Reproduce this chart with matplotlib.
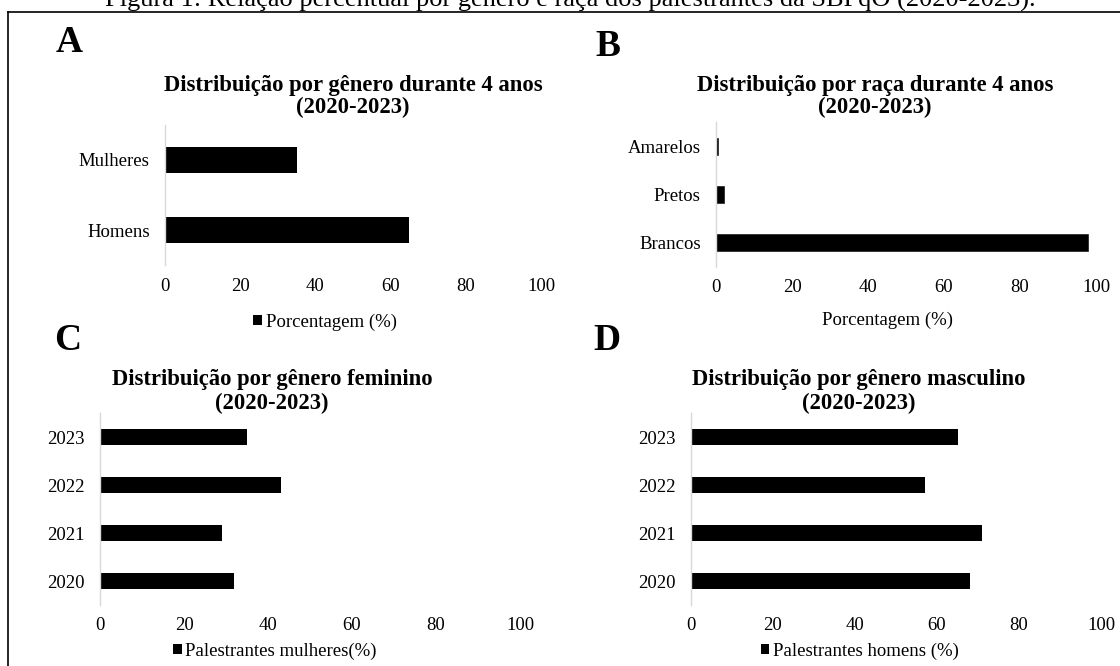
import matplotlib
matplotlib.use("Agg")
import matplotlib.pyplot as plt
from matplotlib.lines import Line2D

plt.rcParams['font.family'] = ['Liberation Serif', 'DejaVu Serif']

# ---------------- data ----------------
gender_labels = ["Homens", "Mulheres"]
gender_values = [65, 35]

race_labels = ["Brancos", "Pretos", "Amarelos"]
race_values = [98, 2, 0.4]

years = ["2020", "2021", "2022", "2023"]
female_values = [32, 29, 43, 35]
male_values = [68, 71, 57, 65]

x_ticks = [0, 20, 40, 60, 80, 100]

caption = "Figura 1: Relação percentual por gênero e raça dos palestrantes da SBPqO (2020-2023)."
titles = {
    "A": ("Distribuição por gênero durante 4 anos", "(2020-2023)"),
    "B": ("Distribuição por raça durante 4 anos", "(2020-2023)"),
    "C": ("Distribuição por gênero feminino", "(2020-2023)"),
    "D": ("Distribuição por gênero masculino", "(2020-2023)"),
}
legend_A = "Porcentagem (%)"
xlabel_B = "Porcentagem (%)"
legend_C = "Palestrantes mulheres(%)"
legend_D = "Palestrantes homens (%)"

# ---------------- layout ----------------
W, H = 1120, 666
fig = plt.figure(figsize=(W / 100, H / 100), dpi=100)
fig.patch.set_facecolor("white")


def fx(x):
    return x / W


def fy(y):
    return 1 - y / H


def px_axes(x0, x1, ytop, ybot):
    return fig.add_axes([fx(x0), fy(ybot), (x1 - x0) / W, (ybot - ytop) / H])


TICK_FS = 13.5
GRID_GREY = "#d9d9d9"


def style_axes(ax, ncat):
    ax.set_xlim(0, 100)
    ax.set_ylim(-0.5, ncat - 0.5)
    ax.set_xticks(x_ticks)
    for s in ["top", "right", "bottom"]:
        ax.spines[s].set_visible(False)
    ax.spines["left"].set_color(GRID_GREY)
    ax.spines["left"].set_linewidth(1.0)
    ax.tick_params(axis="both", length=0, labelsize=TICK_FS, colors="black")
    ax.tick_params(axis="x", pad=9)
    ax.tick_params(axis="y", pad=11)
    ax.set_facecolor("none")


def add_legend(ax, handle, label, xc, yc):
    leg = ax.legend([handle], [label], loc="center",
                    bbox_to_anchor=(fx(xc), fy(yc)), bbox_transform=fig.transFigure,
                    frameon=False, fontsize=TICK_FS, handlelength=0.45, handleheight=0.45,
                    handletextpad=0.2, borderpad=0, borderaxespad=0)
    return leg


# Panel A
axA = px_axes(165, 541, 125, 265)
barsA = axA.barh(gender_labels, gender_values, height=0.36, color="black")
style_axes(axA, len(gender_labels))
add_legend(axA, barsA, legend_A, 325, 322)

# Panel B
axB = px_axes(716, 1096, 122, 267)
axB.barh(race_labels, race_values, height=0.35, color="black", edgecolor="black", linewidth=0.4)
style_axes(axB, len(race_labels))
fig.text(fx(887), fy(320), xlabel_B, ha="center", va="center", fontsize=TICK_FS)

# Panel C
axC = px_axes(100, 520, 413, 605)
barsC = axC.barh(years, female_values, height=0.35, color="black")
style_axes(axC, len(years))
add_legend(axC, barsC, legend_C, 275, 651)

# Panel D
axD = px_axes(691, 1101, 413, 605)
barsD = axD.barh(years, male_values, height=0.35, color="black")
style_axes(axD, len(years))
add_legend(axD, barsD, legend_D, 860, 651)

# Titles
TITLE_FS = 16.25
title_pos = {"A": (353, 86, 107), "B": (875, 86, 107), "C": (272, 380, 403), "D": (859, 380, 403)}
for k, (l1, l2) in titles.items():
    xc, y1, y2 = title_pos[k]
    fig.text(fx(xc), fy(y1), l1, ha="center", va="center", fontsize=TITLE_FS, fontweight="bold")
    fig.text(fx(xc), fy(y2), l2, ha="center", va="center", fontsize=TITLE_FS, fontweight="bold")

# Panel letters
letter_pos = {"A": (69, 43), "B": (608, 46), "C": (68, 340), "D": (607, 340)}
for k, (xc, yc) in letter_pos.items():
    fig.text(fx(xc), fy(yc), k, ha="center", va="center", fontsize=27, fontweight="bold")

# Caption (its top is cut off by the frame edge, as in the reference)
fig.text(fx(570), fy(7), caption, ha="center", va="baseline", fontsize=19)

# Border (top and left)
fig.add_artist(Line2D([fx(8), 1.0], [fy(11.7), fy(11.7)], color="black", lw=1.2,
                      transform=fig.transFigure))
fig.add_artist(Line2D([fx(8), fx(8)], [fy(11.7), 0.0], color="black", lw=1.2,
                      transform=fig.transFigure))

fig.savefig("out.png", dpi=100, facecolor="white")
